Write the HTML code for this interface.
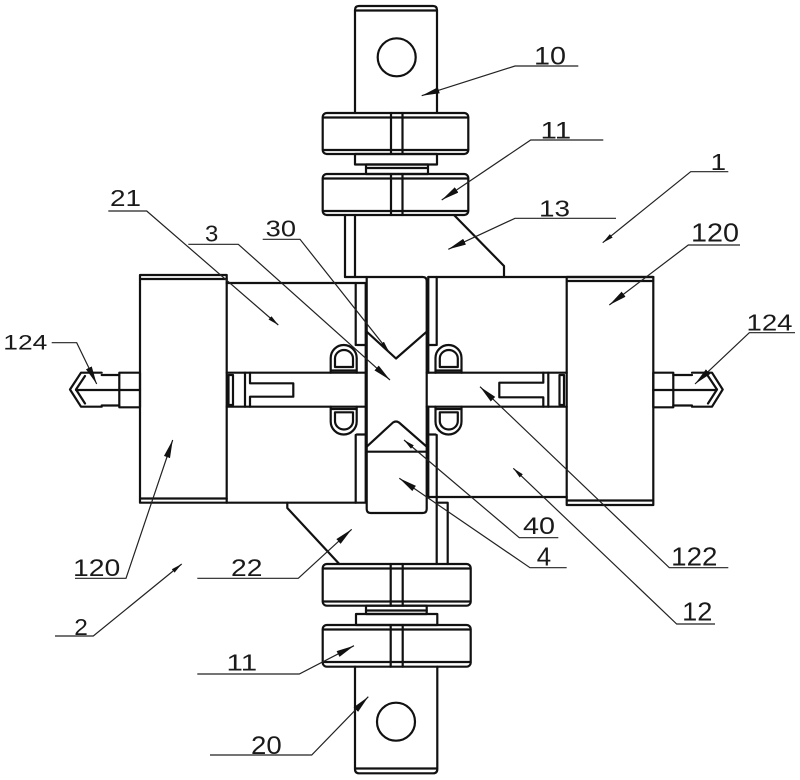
<!DOCTYPE html>
<html>
<head>
<meta charset="utf-8">
<style>
html,body{margin:0;padding:0;background:#fff;}
svg{display:block;}
text{font-family:"Liberation Sans",Arial,sans-serif;fill:#1a1a1a;}
</style>
</head>
<body>
<svg width="800" height="780" viewBox="0 0 800 780" xmlns="http://www.w3.org/2000/svg">
<defs>
<marker id="ab" markerUnits="userSpaceOnUse" markerWidth="20" markerHeight="8" refX="18" refY="3.2" orient="auto">
<path d="M0,0 L18,3.2 L0,6.4 z" fill="#111"/>
</marker>
<marker id="as" markerUnits="userSpaceOnUse" markerWidth="12" markerHeight="6" refX="11" refY="2.2" orient="auto">
<path d="M0,0 L11,2.2 L0,4.4 z" fill="#111"/>
</marker>
</defs>

<g fill="none" stroke="#111" stroke-width="2.2" stroke-linejoin="round" stroke-linecap="round">
<!-- top tab 10 -->
<path d="M355,113 V10 Q355,6 359,6 H433 Q437,6 437,10 V113"/>
<path d="M356,10.5 H436"/>
<circle cx="396.7" cy="57.3" r="19"/>
<!-- nut 1 -->
<rect x="322.7" y="113" width="145.6" height="41" rx="4"/>
<path d="M323,117.5 H468 M323,150 H468 M391,113 V154 M402.5,113 V154"/>
<rect x="355" y="154" width="82" height="10.5"/>
<rect x="366" y="164.5" width="62" height="9.5"/>
<path d="M366,168 H428"/>
<!-- nut 2 -->
<rect x="322.7" y="174" width="145.6" height="41" rx="4"/>
<path d="M323,178.5 H468 M323,211 H468 M391,174 V215 M402.5,174 V215"/>
<!-- part 13 -->
<path d="M345,215 V277 M355,215 V277 M454,215 L504,266 V277"/>
<path d="M345,277 H366.7"/>
<path d="M428.3,277 H653.3"/>
<!-- central block -->
<path d="M366.7,277 V509 Q366.7,513 370.7,513 H422.7 Q426.7,513 426.7,509 V281 Q426.7,277 422.7,277 H366.7"/>
<!-- V notch 30 -->
<path d="M366.7,331.7 L396,358.5 L426.7,331.7"/>
<!-- inverted V 40 -->
<path d="M366.7,446.7 L393,422.5 Q396,420.5 399,422.5 L426.7,446.7"/>
<path d="M366.7,451.7 H426.7"/>
<!-- right strip -->
<path d="M428.3,277 V372.7 M428.3,406.7 V497 M436.7,277 V345 M436.7,435 V497"/>
<path d="M428.3,497 H566.7"/>
<!-- right plate 120 -->
<rect x="566.7" y="277" width="86.6" height="228"/>
<path d="M567,281 H653 M567,500.5 H653"/>
<!-- left plate 120 -->
<rect x="140" y="275" width="86.7" height="227.7"/>
<path d="M140,279 H226.7 M140,498.5 H226.7"/>
<!-- left block 21 -->
<path d="M226.7,283 H365.7 V502.7 H226.7"/>
<path d="M355.7,283 V345 M355.7,435 V502.7"/>
<!-- rods -->
<path d="M226.7,372.7 H365.7 M226.7,406.7 H365.7"/>
<path d="M426.7,372.7 H566.7 M426.7,406.7 H566.7"/>
<!-- left T slot -->
<path d="M245,372.7 V406.7 M250,372.7 V383.3 M250,396.7 V406.7 M250,383.3 H293.3 V396.7 H250"/>
<rect x="228.5" y="375" width="4.5" height="30"/>
<!-- right T slot -->
<path d="M548.3,372.7 V406.7 M543.3,372.7 V382.7 M543.3,397.3 V406.7 M543.3,382.7 H499.3 V397.3 H543.3"/>
<rect x="559.5" y="375" width="4.5" height="30"/>
<!-- rollers left -->
<path d="M330.7,372.7 V358 A13,13 0 0 1 356.7,358 V372.7"/>
<path d="M335,367 V358.5 A9,8.5 0 0 1 353,358.5 V367 Z"/>
<path d="M331,370.5 H356.5"/>
<path d="M330.7,406.7 V421.5 A13,13 0 0 0 356.7,421.5 V406.7"/>
<path d="M335,412.3 V421 A9,8.5 0 0 0 353,421 V412.3 Z"/>
<path d="M331,409 H356.5"/>
<path d="M356.7,345 H365.7 M356.7,434.5 H365.7"/>
<!-- rollers right -->
<path d="M435.5,372.7 V358 A13,13 0 0 1 461.5,358 V372.7"/>
<path d="M439.8,367 V358.5 A9,8.5 0 0 1 457.8,358.5 V367 Z"/>
<path d="M435.8,370.5 H461.3"/>
<path d="M435.5,406.7 V421.5 A13,13 0 0 0 461.5,421.5 V406.7"/>
<path d="M439.8,412.3 V421 A9,8.5 0 0 0 457.8,421 V412.3 Z"/>
<path d="M435.8,409 H461.3"/>
<path d="M428.3,345 H435.5 M428.3,434.5 H435.5"/>
<!-- left bolt 124 -->
<rect x="119.3" y="372.7" width="20.7" height="34.6"/>
<path d="M119.3,390 H140"/>
<path d="M101.7,375 H119.3 M101.7,405.5 H119.3 M76,390 H119.3"/>
<path d="M101.7,372.7 H81 L70,389.5 L81,406.7 H101.7"/>
<path d="M85,376 L76,389.5 L85,403.5"/>
<!-- right bolt 124 -->
<rect x="653.3" y="372.7" width="20" height="34.6"/>
<path d="M653.3,390 H673.3"/>
<path d="M673.3,375 H692 M673.3,405.5 H692 M673.3,390 H716"/>
<path d="M692,372.7 H712 L722.7,389.5 L712,406.7 H692"/>
<path d="M708,376 L717,389.5 L708,403.5"/>
<!-- part 22 -->
<path d="M287.3,502.7 V508 L339.3,564"/>
<path d="M436.7,497 V564 M447.7,502.7 V564 M436.7,502.7 H447.7"/>
<!-- nut 3 -->
<rect x="322.7" y="564" width="148" height="41.7" rx="4"/>
<path d="M323,568.5 H470 M323,601.5 H470 M390.7,564 V605.7 M402.7,564 V605.7"/>
<rect x="366" y="605.7" width="60.7" height="8.3"/>
<path d="M366,610.5 H426.7"/>
<rect x="356" y="614" width="81.3" height="11"/>
<!-- nut 4 -->
<rect x="322.7" y="625" width="148" height="41.7" rx="4"/>
<path d="M323,629.5 H470 M323,662 H470 M390.7,625 V666.7 M402.7,625 V666.7"/>
<!-- bottom tab 20 -->
<path d="M355,666.7 V769 Q355,773.3 359,773.3 H433.3 Q437.3,773.3 437.3,769 V666.7"/>
<path d="M356,768.5 H436.3"/>
<circle cx="396" cy="721.7" r="19"/>
</g>

<!-- leaders -->
<g fill="none" stroke="#222" stroke-width="1.2">
<polyline points="578.3,66 515,66 421.7,95.7" marker-end="url(#ab)"/>
<polyline points="603.3,140 530.7,140 441.7,200" marker-end="url(#ab)"/>
<polyline points="616,218.3 515,218.3 448.3,249.3" marker-end="url(#ab)"/>
<polyline points="728.3,171.7 690.7,171.7 602.7,242.7" marker-end="url(#as)"/>
<polyline points="740,245 688.3,245 609.3,305" marker-end="url(#ab)"/>
<polyline points="795,332.7 749.3,332.7 695,384" marker-end="url(#ab)"/>
<polyline points="51.7,342.7 76.7,342.7 96.7,384" marker-end="url(#ab)"/>
<polyline points="108.3,211 146.7,211 278.3,325" marker-end="url(#as)"/>
<polyline points="188.3,244.3 238.3,244.3 390,380" marker-end="url(#ab)"/>
<polyline points="262.7,239.3 300,239.3 389,351.7" marker-end="url(#as)"/>
<polyline points="75,578.3 126,578.3 172.7,440" marker-end="url(#ab)"/>
<polyline points="55,636 93.3,636 181.7,564" marker-end="url(#as)"/>
<polyline points="197.3,578.3 298.3,578.3 351.7,529.3" marker-end="url(#ab)"/>
<polyline points="197.3,674 299.3,674 354,645.7" marker-end="url(#ab)"/>
<polyline points="210,755 311.7,755 368.3,696.7" marker-end="url(#ab)"/>
<polyline points="558.3,537.7 519.3,537.7 404,440" marker-end="url(#as)"/>
<polyline points="566.7,567.7 530,567.7 399.3,478.3" marker-end="url(#ab)"/>
<polyline points="728.3,567.7 669.3,567.7 480,386.7" marker-end="url(#ab)"/>
<polyline points="715,624 676.7,624 513.3,468.3" marker-end="url(#as)"/>
</g>

<!-- labels -->
<g>
<text x="534" y="64.3" font-size="25" textLength="32" lengthAdjust="spacingAndGlyphs">10</text>
<text x="540.5" y="138.3" font-size="24.5" textLength="30.6" lengthAdjust="spacingAndGlyphs">11</text>
<text x="539" y="216.7" font-size="23.5" textLength="31" lengthAdjust="spacingAndGlyphs">13</text>
<text x="710.5" y="170" font-size="23" textLength="15.6" lengthAdjust="spacingAndGlyphs">1</text>
<text x="691" y="241.7" font-size="25.5" textLength="48" lengthAdjust="spacingAndGlyphs">120</text>
<text x="746.5" y="330.7" font-size="23.5" textLength="46" lengthAdjust="spacingAndGlyphs">124</text>
<text x="3.3" y="349.3" font-size="21.5" textLength="44" lengthAdjust="spacingAndGlyphs">124</text>
<text x="110" y="206" font-size="23.5" textLength="31" lengthAdjust="spacingAndGlyphs">21</text>
<text x="205" y="241.7" font-size="23.5" textLength="13.3" lengthAdjust="spacingAndGlyphs">3</text>
<text x="265.7" y="236.7" font-size="23.5" textLength="30.3" lengthAdjust="spacingAndGlyphs">30</text>
<text x="73" y="576" font-size="24.5" textLength="47.3" lengthAdjust="spacingAndGlyphs">120</text>
<text x="74.3" y="635" font-size="23" textLength="13.6" lengthAdjust="spacingAndGlyphs">2</text>
<text x="231" y="576" font-size="24.5" textLength="31.4" lengthAdjust="spacingAndGlyphs">22</text>
<text x="226.5" y="670.7" font-size="23.5" textLength="30.6" lengthAdjust="spacingAndGlyphs">11</text>
<text x="251" y="754" font-size="25" textLength="30.7" lengthAdjust="spacingAndGlyphs">20</text>
<text x="523" y="534" font-size="24" textLength="32" lengthAdjust="spacingAndGlyphs">40</text>
<text x="536.8" y="565.7" font-size="26" textLength="14.4" lengthAdjust="spacingAndGlyphs">4</text>
<text x="671.2" y="565.7" font-size="26" textLength="46.2" lengthAdjust="spacingAndGlyphs">122</text>
<text x="682.2" y="620.7" font-size="26" textLength="30.2" lengthAdjust="spacingAndGlyphs">12</text>
</g>
</svg>
</body>
</html>
